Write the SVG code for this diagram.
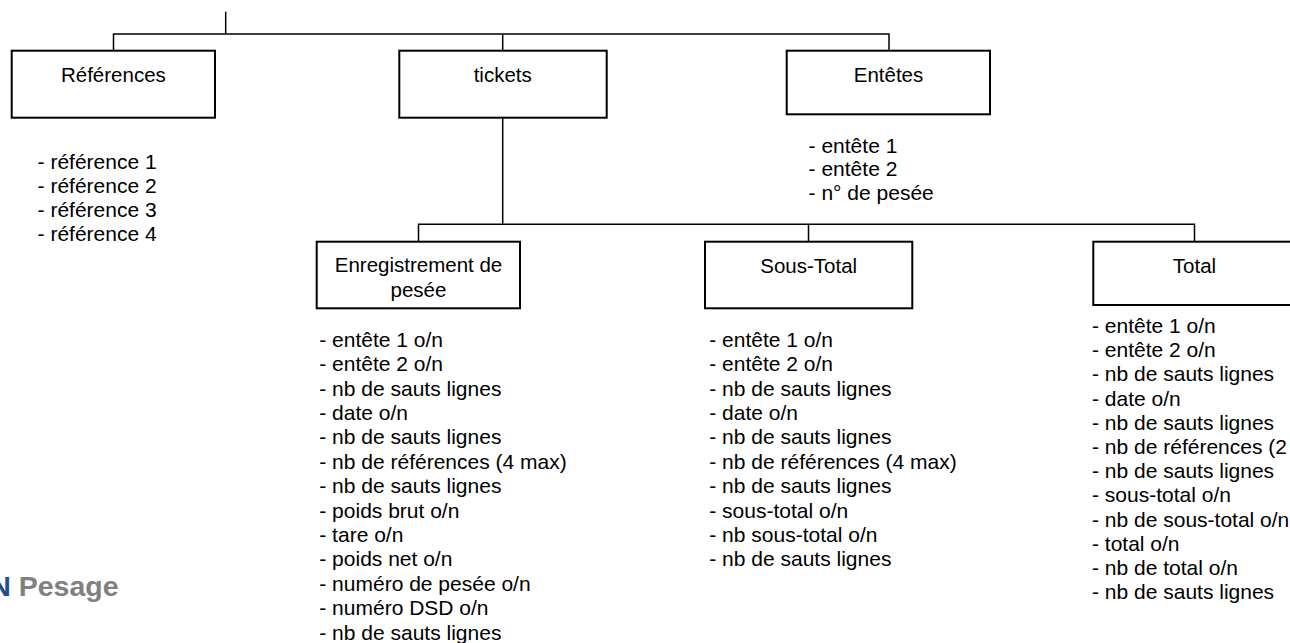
<svg xmlns="http://www.w3.org/2000/svg" width="1290" height="643" viewBox="0 0 1290 643">
  <style>
    .box { fill: #fff; stroke: #000; stroke-width: 2; }
    .wire { fill: none; stroke: #000; stroke-width: 1.5; }
    .label { font-family: "Liberation Sans", Arial, sans-serif; font-size: 20.5px; fill: #000; text-anchor: middle; }
    .list { font-family: "Liberation Sans", Arial, sans-serif; font-size: 21px; fill: #000; }
    .brand { font-family: "Liberation Sans", Arial, sans-serif; font-size: 28.5px; font-weight: bold; }
  </style>
  <rect width="1290" height="643" fill="#fff"/>

  <!-- connectors -->
  <g id="connectors">
    <path class="wire" d="M225.7 11.7 V34"/>
    <path class="wire" d="M113.5 50.7 V34 H889 V50.7"/>
    <path class="wire" d="M502.7 34 V50.7"/>
    <path class="wire" d="M502.7 117.7 V224.3"/>
    <path class="wire" d="M418.5 241.7 V224.3 H1194.5 V241.7"/>
    <path class="wire" d="M808.5 224.3 V241.7"/>
  </g>

  <!-- top level -->
  <g id="references">
    <rect class="box" x="11.7" y="50.7" width="203.3" height="67"/>
    <text class="label" x="113.4" y="82.3">Références</text>
    <text class="list">
      <tspan x="37.6" y="169.3">- référence 1</tspan>
      <tspan x="37.6" y="193.3">- référence 2</tspan>
      <tspan x="37.6" y="217.3">- référence 3</tspan>
      <tspan x="37.6" y="241.3">- référence 4</tspan>
    </text>
  </g>

  <g id="tickets">
    <rect class="box" x="399.3" y="50.7" width="207.4" height="67"/>
    <text class="label" x="502.7" y="82.3">tickets</text>
  </g>

  <g id="entetes">
    <rect class="box" x="786.7" y="50.7" width="203.3" height="63.6"/>
    <text class="label" x="888.5" y="82.3">Entêtes</text>
    <text class="list">
      <tspan x="808.6" y="152.5">- entête 1</tspan>
      <tspan x="808.6" y="176.3">- entête 2</tspan>
      <tspan x="808.6" y="200.1">- n° de pesée</tspan>
    </text>
  </g>

  <!-- ticket sections -->
  <g id="enregistrement">
    <rect class="box" x="316.7" y="241.7" width="203.3" height="66.6"/>
    <text class="label" x="418.5" y="272.3">Enregistrement de</text>
    <text class="label" x="418.5" y="297">pesée</text>
    <text class="list">
      <tspan x="319.3" y="346.7">- entête 1 o/n</tspan>
      <tspan x="319.3" y="371.1">- entête 2 o/n</tspan>
      <tspan x="319.3" y="395.5">- nb de sauts lignes</tspan>
      <tspan x="319.3" y="419.9">- date o/n</tspan>
      <tspan x="319.3" y="444.3">- nb de sauts lignes</tspan>
      <tspan x="319.3" y="468.7">- nb de références (4 max)</tspan>
      <tspan x="319.3" y="493.1">- nb de sauts lignes</tspan>
      <tspan x="319.3" y="517.5">- poids brut o/n</tspan>
      <tspan x="319.3" y="541.9">- tare o/n</tspan>
      <tspan x="319.3" y="566.3">- poids net o/n</tspan>
      <tspan x="319.3" y="590.7">- numéro de pesée o/n</tspan>
      <tspan x="319.3" y="615.1">- numéro DSD o/n</tspan>
      <tspan x="319.3" y="639.5">- nb de sauts lignes</tspan>
    </text>
  </g>

  <g id="sous-total">
    <rect class="box" x="705" y="241.7" width="207.3" height="66.6"/>
    <text class="label" x="808.7" y="273.3">Sous-Total</text>
    <text class="list">
      <tspan x="709.3" y="346.7">- entête 1 o/n</tspan>
      <tspan x="709.3" y="371.1">- entête 2 o/n</tspan>
      <tspan x="709.3" y="395.5">- nb de sauts lignes</tspan>
      <tspan x="709.3" y="419.9">- date o/n</tspan>
      <tspan x="709.3" y="444.3">- nb de sauts lignes</tspan>
      <tspan x="709.3" y="468.7">- nb de références (4 max)</tspan>
      <tspan x="709.3" y="493.1">- nb de sauts lignes</tspan>
      <tspan x="709.3" y="517.5">- sous-total o/n</tspan>
      <tspan x="709.3" y="541.9">- nb sous-total o/n</tspan>
      <tspan x="709.3" y="566.3">- nb de sauts lignes</tspan>
    </text>
  </g>

  <!-- this box runs past the right edge of the sheet -->
  <g id="total">
    <rect class="box" x="1093.3" y="241.7" width="203.3" height="63.3"/>
    <text class="label" x="1194.5" y="273.3">Total</text>
    <text class="list">
      <tspan x="1092" y="332.9">- entête 1 o/n</tspan>
      <tspan x="1092" y="357.1">- entête 2 o/n</tspan>
      <tspan x="1092" y="381.3">- nb de sauts lignes</tspan>
      <tspan x="1092" y="405.5">- date o/n</tspan>
      <tspan x="1092" y="429.7">- nb de sauts lignes</tspan>
      <tspan x="1092" y="453.9">- nb de références (2</tspan>
      <tspan x="1092" y="478.1">- nb de sauts lignes</tspan>
      <tspan x="1092" y="502.3">- sous-total o/n</tspan>
      <tspan x="1092" y="526.5">- nb de sous-total o/n</tspan>
      <tspan x="1092" y="550.7">- total o/n</tspan>
      <tspan x="1092" y="574.9">- nb de total o/n</tspan>
      <tspan x="1092" y="599.1">- nb de sauts lignes</tspan>
    </text>
  </g>

  <!-- footer mark, partly past the left edge -->
  <g id="brand">
    <text class="brand" x="-9.8" y="596"><tspan fill="#1f4e8c">N</tspan><tspan fill="#808080"> Pesage</tspan></text>
  </g>
</svg>
